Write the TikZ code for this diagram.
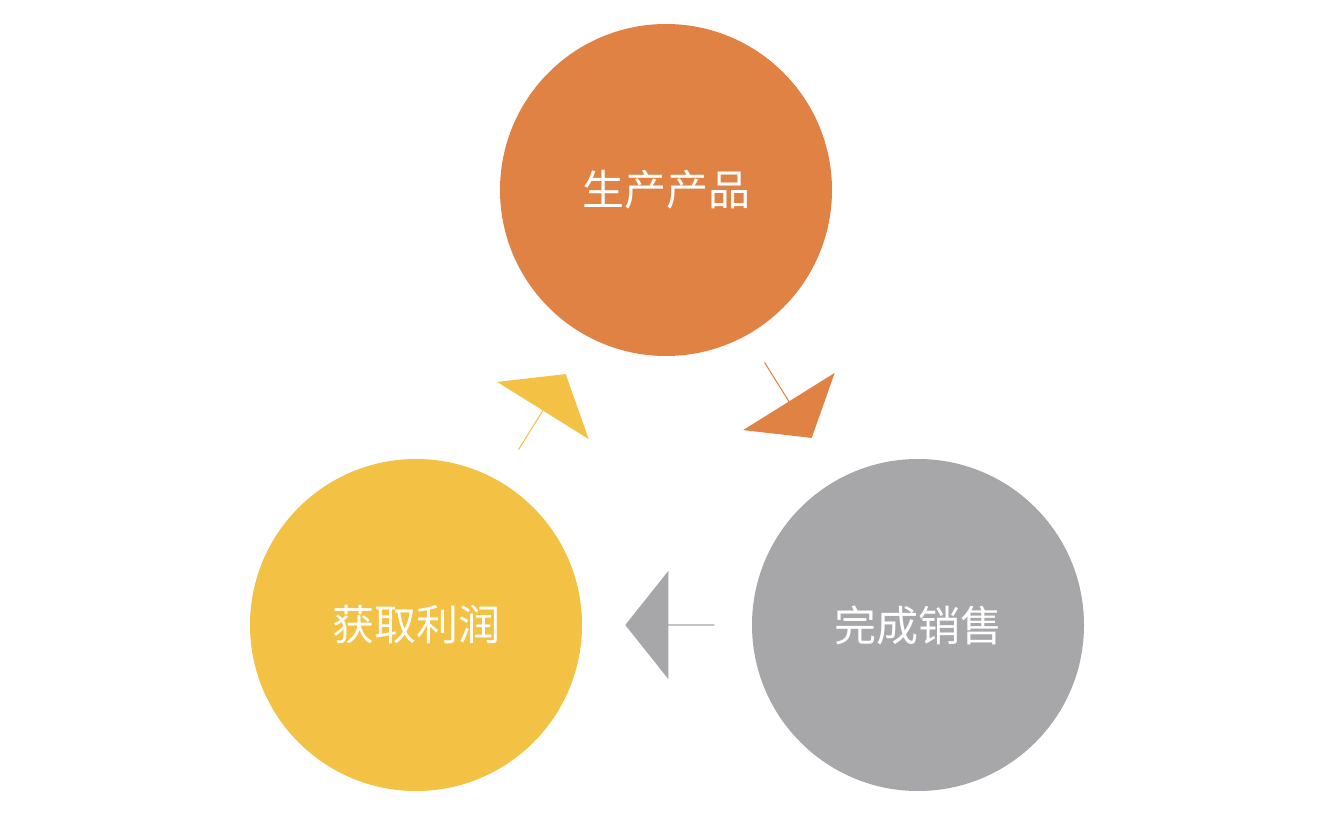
\documentclass[tikz,border=0pt]{standalone}
\usepackage{fontspec}
\newfontfamily\cjk{Noto Sans CJK SC}
\usetikzlibrary{shapes.arrows}
\definecolor{corange}{HTML}{E08244}
\definecolor{cgray}{HTML}{A7A6A9}
\definecolor{cyellow}{HTML}{F3C143}
\begin{document}
\begin{tikzpicture}[x=1pt,y=-1pt,
  blob/.style={circle,minimum size=332pt,inner sep=0pt,text=white,font=\cjk\fontsize{42}{42}\selectfont},
  arr/.style={single arrow,minimum height=89pt,minimum width=108pt,single arrow head extend=21pt,single arrow tip angle=103,inner sep=0pt,draw=none}]
\useasboundingbox (0,0) rectangle (1334,826);
\fill[white] (0,0) rectangle (1334,826);
\node[blob,fill=corange] (a) at (666,190) {生产产品};
\node[blob,fill=cgray] (b) at (918,625) {完成销售};
\node[blob,fill=cyellow] (c) at (416,625) {获取利润};
\node[arr,fill=corange,rotate=-58] (ab) at (788,400) {};
\node[arr,fill=cgray,rotate=180] (bc) at (670,625) {};
\node[arr,fill=cyellow,rotate=58] (ca) at (542,412) {};
\end{tikzpicture}
\end{document}
